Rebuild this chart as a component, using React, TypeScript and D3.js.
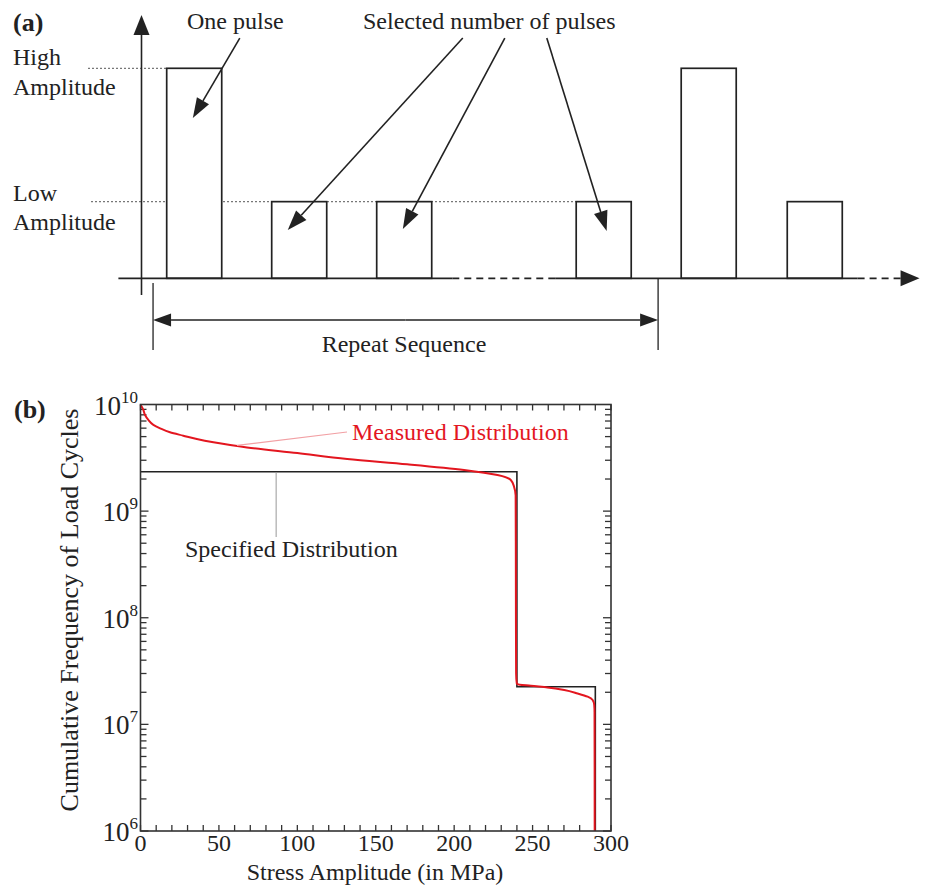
import React, { useRef, useEffect } from 'react';
import * as d3 from 'd3';

const W = 927;
const H = 896;
const FONT = '"Liberation Serif", "Times New Roman", serif';
const INK = '#222';

// ---- panel (a): pulse sequence (time in arbitrary units, amplitude relative to "high")
const pulseStart = [2.4, 12.4, 22.4, 41.4, 51.4, 61.5];
const pulseLevel = ['high', 'low', 'low', 'low', 'high', 'low'];
const pulseWidth = 5.24;
const levelValue: Record<string, number> = { high: 1, low: 0.365 };
// time axis segments: [from, to, dashed]
const baseSegments: [number, number, boolean][] = [
  [-2.2, 29.6, false],
  [29.6, 39.4, true],
  [39.4, 68.2, false],
  [68.2, 72.3, true],
];
const repeatFrom = 1.1;
const repeatTo = 49.2;
// annotation arrows: [startT, startAmp, tipT, tipAmp]
const onePulseArrow = [9.36, 1.144, 4.89, 0.763];
const selectedArrows = [
  [30.6, 1.144, 13.93, 0.23],
  [34.6, 1.144, 24.89, 0.235],
  [38.6, 1.144, 44.3, 0.225],
];

// ---- panel (b): cumulative load spectrum
const stressTicks = [0, 50, 100, 150, 200, 250, 300];
const decades = [6, 7, 8, 9, 10];
const specifiedStress = [0, 240, 290];
const specifiedCycles = [2.34e9, 2.25e7, 1e6];
const measuredStress = [0, 1.8, 2.9, 5, 8.2, 12.5, 18.8, 27.3, 35.9, 46.5, 57.2, 67.9, 100, 131.8, 170, 206.3, 227.6, 236.1, 238.2, 239.2, 239.5, 240, 248.9, 259.5, 270.2, 278.7, 285.1, 288.3, 289.3, 289.5, 289.6];
const measuredCycles = [1e10, 8.9e9, 7.97e9, 7.16e9, 6.43e9, 5.98e9, 5.49e9, 5.1e9, 4.74e9, 4.42e9, 4.17e9, 3.96e9, 3.5e9, 3.08e9, 2.75e9, 2.43e9, 2.18e9, 1.96e9, 1.69e9, 1.4e9, 3e7, 2.39e7, 2.3e7, 2.22e7, 2.1e7, 1.95e7, 1.82e7, 1.69e7, 1.52e7, 1.3e7, 1e6];

const RED = '#e3161f';

type Sel = d3.Selection<SVGGElement, unknown, null, undefined>;

// line with a filled triangular head at (x2, y2)
function arrow(g: Sel, x1: number, y1: number, x2: number, y2: number, len = 20, half = 7) {
  const a = Math.atan2(y2 - y1, x2 - x1);
  const bx = x2 - len * Math.cos(a);
  const by = y2 - len * Math.sin(a);
  g.append('line')
    .attr('x1', x1).attr('y1', y1).attr('x2', bx).attr('y2', by)
    .attr('stroke', INK).attr('stroke-width', 1.6);
  const nx = -Math.sin(a) * half;
  const ny = Math.cos(a) * half;
  g.append('path')
    .attr('d', `M${x2},${y2}L${bx + nx},${by + ny}L${bx - nx},${by - ny}Z`)
    .attr('fill', INK);
}

const App: React.FC = () => {
  const svgRef = useRef<SVGSVGElement>(null);

  useEffect(() => {
    if (!svgRef.current) return;
    const svg = d3.select(svgRef.current);
    svg.selectAll('*').remove();
    svg.append('rect').attr('width', W).attr('height', H).attr('fill', '#fff');

    // ================= panel (a) =================
    const ga = svg.append('g').attr('font-family', FONT).attr('fill', INK);
    const xA = d3.scaleLinear().domain([0, 80]).range([141.5, 981.5]);
    const yA = d3.scaleLinear().domain([0, 1]).range([278.3, 68.3]);

    ga.append('text').attr('x', 13).attr('y', 31).attr('font-size', 26).attr('font-weight', 700).text('(a)');

    // dotted reference levels
    ga.append('line')
      .attr('x1', 88).attr('x2', xA(pulseStart[0]))
      .attr('y1', yA(levelValue.high)).attr('y2', yA(levelValue.high))
      .attr('stroke', '#777').attr('stroke-width', 1.2).attr('stroke-dasharray', '2,2');
    ga.append('line')
      .attr('x1', 91).attr('x2', xA(pulseStart[3]))
      .attr('y1', yA(levelValue.low)).attr('y2', yA(levelValue.low))
      .attr('stroke', '#777').attr('stroke-width', 1.2).attr('stroke-dasharray', '2,2');

    // pulses
    pulseStart.forEach((t, i) => {
      const v = levelValue[pulseLevel[i]];
      ga.append('rect')
        .attr('x', xA(t)).attr('y', yA(v))
        .attr('width', xA(t + pulseWidth) - xA(t))
        .attr('height', yA(0) - yA(v))
        .attr('fill', '#fff').attr('stroke', INK).attr('stroke-width', 1.7);
    });

    // time axis
    baseSegments.forEach(([a, b, dashed]) => {
      ga.append('line')
        .attr('x1', xA(a)).attr('x2', xA(b)).attr('y1', yA(0)).attr('y2', yA(0))
        .attr('stroke', INK).attr('stroke-width', 1.7)
        .attr('stroke-dasharray', dashed ? '7,5' : null);
    });
    arrow(ga, xA(72.3), yA(0), xA(74.1), yA(0), 19, 8);

    // amplitude axis
    arrow(ga, xA(0), yA(-0.08), xA(0), yA(1.254), 20, 8);

    // level labels
    const lbl = (x: number, y: number, s: string, size = 24) =>
      ga.append('text').attr('x', x).attr('y', y).attr('font-size', size).text(s);
    lbl(13, 65, 'High');
    lbl(13, 95, 'Amplitude');
    lbl(13, 201, 'Low');
    lbl(13, 230, 'Amplitude');
    lbl(187, 29, 'One pulse');
    lbl(363, 29, 'Selected number of pulses');

    arrow(ga, xA(onePulseArrow[0]), yA(onePulseArrow[1]), xA(onePulseArrow[2]), yA(onePulseArrow[3]));
    selectedArrows.forEach(([t1, a1, t2, a2]) => arrow(ga, xA(t1), yA(a1), xA(t2), yA(a2)));

    // repeat sequence bracket
    ga.append('line').attr('x1', xA(repeatFrom)).attr('x2', xA(repeatFrom)).attr('y1', 283).attr('y2', 350)
      .attr('stroke', INK).attr('stroke-width', 1.3);
    ga.append('line').attr('x1', xA(repeatTo)).attr('x2', xA(repeatTo)).attr('y1', yA(0)).attr('y2', 350)
      .attr('stroke', INK).attr('stroke-width', 1.3);
    const mid = (xA(repeatFrom) + xA(repeatTo)) / 2;
    arrow(ga, mid, 320, xA(repeatTo), 320, 18, 6.5);
    arrow(ga, mid, 320, xA(repeatFrom), 320, 18, 6.5);
    ga.append('text').attr('x', 404).attr('y', 352).attr('font-size', 24).attr('text-anchor', 'middle').text('Repeat Sequence');

    // ================= panel (b) =================
    const gb = svg.append('g').attr('font-family', FONT).attr('fill', INK);
    const x0 = 140.5, x1 = 611, yTop = 404.5, yBot = 831;
    const xB = d3.scaleLinear().domain([0, 300]).range([x0, x1]);
    const yB = d3.scaleLog().domain([1e6, 1e10]).range([yBot, yTop]);

    gb.append('text').attr('x', 14).attr('y', 418).attr('font-size', 26).attr('font-weight', 700).text('(b)');

    // ticks (inward on all four sides)
    const tickLen = 6;
    d3.range(0, 301, 10).forEach((v) => {
      const x = xB(v);
      gb.append('line').attr('x1', x).attr('x2', x).attr('y1', yBot).attr('y2', yBot - tickLen).attr('stroke', '#333').attr('stroke-width', 1.3);
      gb.append('line').attr('x1', x).attr('x2', x).attr('y1', yTop).attr('y2', yTop + tickLen).attr('stroke', '#333').attr('stroke-width', 1.3);
    });
    decades.slice(0, -1).forEach((d) => {
      d3.range(1, 10).forEach((k) => {
        const y = yB(k * Math.pow(10, d));
        const len = k === 1 ? 8 : tickLen;
        gb.append('line').attr('x1', x0).attr('x2', x0 + len).attr('y1', y).attr('y2', y).attr('stroke', '#333').attr('stroke-width', 1.3);
        gb.append('line').attr('x1', x1).attr('x2', x1 - len).attr('y1', y).attr('y2', y).attr('stroke', '#333').attr('stroke-width', 1.3);
      });
    });

    // tick labels
    stressTicks.forEach((v) => {
      gb.append('text').attr('x', xB(v)).attr('y', 851).attr('font-size', 24).attr('text-anchor', 'middle').text(v);
    });
    decades.forEach((d) => {
      const t = gb.append('text').attr('x', 138).attr('y', yB(Math.pow(10, d)) + 10).attr('font-size', 27).attr('text-anchor', 'end');
      t.append('tspan').text('10');
      t.append('tspan').attr('font-size', 17).attr('dy', -12).text(d);
    });

    // specified distribution (step)
    const stepLine = d3.line<number>()
      .x((_, i) => xB(specifiedStress[i]))
      .y((_, i) => yB(specifiedCycles[i]))
      .curve(d3.curveStepAfter);
    gb.append('path').attr('d', stepLine(specifiedStress)).attr('fill', 'none').attr('stroke', INK).attr('stroke-width', 1.6);

    // measured distribution
    const measLine = d3.line<number>()
      .x((_, i) => xB(measuredStress[i]))
      .y((_, i) => yB(measuredCycles[i]))
      .curve(d3.curveMonotoneY);
    gb.append('path').attr('d', measLine(measuredStress)).attr('fill', 'none').attr('stroke', RED).attr('stroke-width', 2);

    // frame
    gb.append('rect').attr('x', x0).attr('y', yTop).attr('width', x1 - x0).attr('height', yBot - yTop)
      .attr('fill', 'none').attr('stroke', '#333').attr('stroke-width', 1.6);

    // annotations
    gb.append('line').attr('x1', xB(61.5)).attr('y1', yB(4.13e9)).attr('x2', 347).attr('y2', 432)
      .attr('stroke', '#f2a0a4').attr('stroke-width', 1.2);
    gb.append('text').attr('x', 352).attr('y', 440).attr('font-size', 24).attr('fill', RED).text('Measured Distribution');
    gb.append('line').attr('x1', xB(86.5)).attr('x2', xB(86.5)).attr('y1', yB(specifiedCycles[0]) + 1).attr('y2', 537)
      .attr('stroke', '#aaa').attr('stroke-width', 1.2);
    gb.append('text').attr('x', 185).attr('y', 557).attr('font-size', 24).text('Specified Distribution');

    // axis titles
    gb.append('text').attr('x', 375).attr('y', 880).attr('font-size', 24).attr('text-anchor', 'middle').text('Stress Amplitude (in MPa)');
    gb.append('text').attr('transform', 'translate(78,610) rotate(-90)').attr('font-size', 26).attr('text-anchor', 'middle')
      .text('Cumulative Frequency of Load Cycles');
  }, []);

  return <svg ref={svgRef} width={W} height={H} style={{ position: 'absolute', left: 0, top: 0 }} />;
};

export default App;
